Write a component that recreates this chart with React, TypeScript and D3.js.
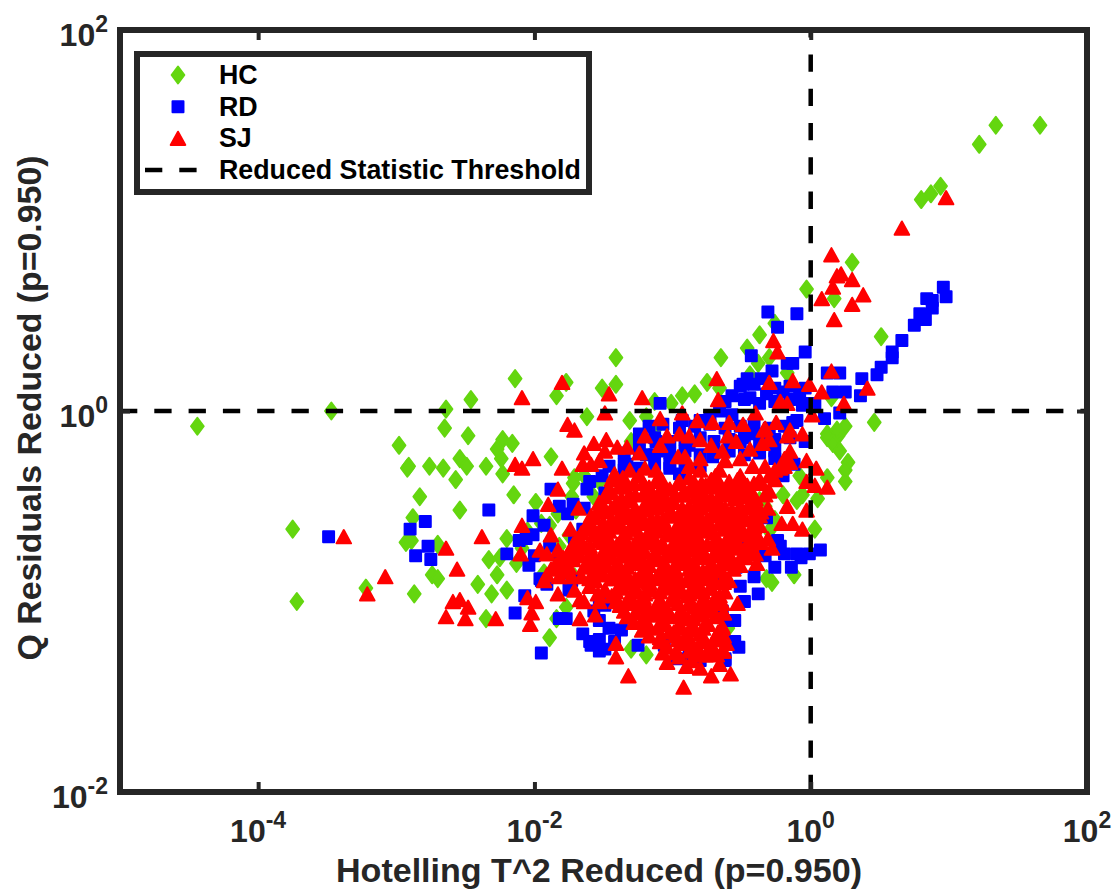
// App.tsx
import * as d3 from "d3";
import React, { useRef, useEffect } from "react";

const width = 1119;
const height = 890;
const plot = { left: 120, right: 1087, top: 30, bottom: 792 };

const seriesNames = ["HC", "RD", "SJ"];
const thresholdName = "Reduced Statistic Threshold";
const xTicks = [1e-4, 1e-2, 1, 100];
const yTicks = [1e-2, 1, 100];
const thresholdT2 = 1;
const thresholdQ = 1;

// all values, as log10 of the statistic
const hcT2 = [
  1.66, 1.34, 1.22, 0.94, 0.87, 0.8, 0.3, -0.03, 0.17, 0.51, 0.46, -0.26, -0.37, -0.46, -0.65, -0.38, -0.3, -0.75, -0.44, -0.17,
  0.15, 0.25, 0.12, 0.2, 0.12, 0.19, 0.16, 0.21, 0.27, 0.25, 0.25, 0.12, 0.05, -0.06, 0.03, -0.1, -0.26, -0.32, -0.28, -0.12,
  -0.08, -0.2, -0.33, -1.41, -1.41, -1.51, -1.84, -1.77, -1.62, -1.31, -1.19, -1.13, -0.93, -0.84, -0.66, -1.01, -1.13, -1.3, -1.88, -1.71,
  -1.72, -1.99, -1.95, -1.83, -1.89, -1.3, -1.19, -1.77, -1.84, -0.6, -0.64, -1.75, -1.7, -1.53, -4.44, -3.47, -2.64, -2.46, -2.14, -2.65,
  -2.48, -2.98, -2.91, -2.76, -2.66, -2.54, -2.49, -2.57, -2.35, -2.23, -2.23, -2.27, -2.24, -2.16, -2.83, -2.15, -2.54, -2.88, -3.75, -2.93,
  -2.89, -2.7, -2.2, -2.33, -2.25, -2.13, -2.27, -2.74, -2.7, -2.41, -2.31, -2.2, -2.87, -3.22, -3.72, -2.35, -2.92, -2.05, -2.09, -1.93,
  -1.64, -1.73, -1.57, -1.89, -1.82, -1.71, -0.37, -0.3,
];
const hcQ = [
  1.5, 1.5, 1.4, 1.18, 1.14, 1.11, 0.78, 0.64, 0.59, 0.39, -0.06, 0.46, 0.4, 0.33, 0.28, 0.25, 0.28, 0.15, 0.19, 0.2,
  0.07, -0.08, -0.12, -0.13, -0.14, -0.1, -0.17, -0.21, -0.27, -0.31, -0.37, -0.35, -0.46, -0.44, -0.62, -0.47, -0.57, -0.88, -0.9, -0.86,
  -0.34, -0.44, -0.5, 0.28, 0.14, 0.12, 0.08, 0.15, -0.03, -0.05, -0.03, -0.1, 0.08, 0.09, 0.12, 0.04, 0.05, -0.16, -0.24, -0.35,
  -0.38, -0.48, -0.59, -0.54, -1.19, -1.25, -1.28, -1.03, -1.09, -1.14, -1.21, -0.65, -0.52, -0.37, -0.08, 0, 0.01, 0.06, 0.17, -0.09,
  -0.13, -0.18, -0.29, -0.29, -0.3, -0.25, -0.29, -0.36, -0.29, -0.33, -0.15, -0.2, -0.25, -0.17, -0.45, -0.44, -0.52, -0.56, -0.62, -0.69,
  -0.68, -0.7, -0.67, -0.78, -0.77, -0.8, -0.86, -0.86, -0.88, -0.91, -0.96, -0.94, -0.96, -0.93, -1, -1.09, -0.3, -0.63, -0.72, -0.85,
  -0.34, -0.45, -0.45, -0.6, -0.71, -0.87, -0.47, -0.63,
];

const rdT2 = [
  0.96, 0.98, 0.84, 0.88, 0.88, 0.79, 0.83, 0.75, 0.66, 0.59, 0.59, 0.51, 0.48, 0.37, 0.36, 0.25, -0.31, -0.1, -0.24, -0.43,
  -0.04, -0.13, -0.17, -0.28, -0.46, -0.36, 0.21, 0.12, 0.16, -0.49, -0.57, -0.44, -0.32, -0.2, -0.08, -0.03, 0.1, 0.21, -0.13, -0.66,
  -0.06, -1.09, -0.73, -0.93, -0.42, -0.57, -0.1, -0.26, -0.12, -0.2, -1.19, -1.04, -1.33, -1.51, -0.71, -1.02, -0.95, -1.62, -1.88, -1.72,
  -1.49, -2.01, -1.76, -1.64, -2.06, -1.71, -1.65, -2.04, -1.95, -1.91, -1.73, -1.8, -1.82, -1.77, -1.65, -1.53, -1.49, -1.46, -1.25, -1.95,
  -0.52, -0.38, -0.26, -0.14, -0.1, 0.07, -0.01, -0.24, -0.19, -0.07, -0.62, -0.64, -0.61, -0.97, -0.68, -0.32, -0.54, -0.46, -3.49, -2.79,
  -2.9, -2.77, -2.86, -2.75, -2.33, -2.01, -2.11, -2.2, -1.96, -2.07, -2.14, -1.59, -1.53, -0.8, -1.24, -1.12, -0.88, -0.51, -1.35,
  // crowded band above the core
  -1.17, -1.07, -0.95, -0.84, -0.73, -0.62, -0.51, -0.41, -0.3, -0.19,
  -1.24, -1.13, -1.02, -0.91, -0.8, -0.7, -0.59, -0.48, -0.37, -0.26, -0.15, -0.04,
  -1.35, -1.24, -1.13, -1.02, -0.91, -0.8, -0.7, -0.59, -0.48, -0.37, -0.26,
  -1.46, -1.35, -1.24, -1.13, -1.02, -0.91, -0.8,
  -0.51, -0.41, -0.26, -0.15, -0.04,
  -0.62, -0.48, -0.37, -0.26, -0.15, 0.03,
  // round the edge of the core
  -1.6, -1.82, -1.93, -1.89, -2, -1.82, -1.75, -1.57, -1.53, -1.49, -1.6, -1.42, -1.53, -1.37,
  -0.55, -0.55, -0.48, -0.51, -0.41, -0.33, -0.22, -0.62, -0.8, -0.88, -1.06,
];
const rdQ = [
  0.65, 0.6, 0.59, 0.58, 0.54, 0.51, 0.48, 0.45, 0.37, 0.31, 0.28, 0.23, 0.19, 0.17, 0.08, 0.1, 0.52, 0.51, 0.44, 0.29,
  0.31, 0.25, 0.25, 0.21, 0.17, 0.17, 0.2, 0.2, 0.1, 0.14, 0.08, 0.07, 0.09, 0.1, 0.09, 0.04, -0.04, -0.01, -0.06, 0,
  0.03, 0.04, -0.03, -0.05, -0.12, -0.02, -0.05, -0.25, -0.28, -0.34, -0.23, -0.21, -0.28, -0.34, -0.24, -0.3, -0.33, -0.41, -0.41, -0.49,
  -0.43, -0.55, -0.54, -0.51, -0.67, -0.69, -0.62, -0.81, -0.89, -0.91, -0.89, -1.09, -1.09, -1.09, -1.17, -1.2, -1.25, -1.14, -1.23, -1.27,
  -1.24, -0.96, -0.82, -0.82, -0.75, -0.73, -0.75, -0.68, -0.75, -0.77, -1.3, -1.05, -1.1, -1.3, -0.86, -0.56, -0.82, -0.72, -0.66, -0.58,
  -0.62, -0.71, -0.76, -0.78, -0.52, -0.65, -0.68, -0.75, -0.88, -0.97, -1.06, -1.23, -1.26, -0.05, -0.12, -0.16, -0.18, -0.16, -0.31,
  // crowded band above the core
  -0.08, -0.07, -0.09, -0.08, -0.07, -0.09, -0.08, -0.07, -0.09, -0.08,
  -0.15, -0.14, -0.16, -0.15, -0.14, -0.16, -0.15, -0.14, -0.16, -0.15, -0.14, -0.16,
  -0.22, -0.21, -0.23, -0.22, -0.21, -0.23, -0.22, -0.21, -0.23, -0.22, -0.21,
  -0.29, -0.28, -0.3, -0.29, -0.28, -0.3, -0.29,
  0.13, 0.14, 0.12, 0.13, 0.12,
  0.05, 0.06, 0.04, 0.05, 0.06, 0.04,
  // round the edge of the core
  -0.37, -0.5, -0.6, -0.71, -0.76, -0.79, -0.94, -1.05, -1.1, -1.02, -1.21, -1.21, -1, -1.15,
  -1.1, -1.21, -1, -0.92, -0.87, -0.76, -0.71, -1.31, -1.31, -1.29, -1.23,
];

const sjT2 = [
  0.98, 0.66, 0.15, 0.22, 0.19, 0.3, 0.16, 0.08, 0.38, 0.3, 0.17, -0.27, -0.24, -0.68, -0.67, -0.3, -0.13, -0.01, 0.15, 0.08,
  0.41, 0.24, -0.22, -0.17, -0.4, 0.01, -0.25, -0.49, -0.59, -0.71, -0.34, -0.15, -0.06, -1.8, -1.46, -1.22, -1.49, -1.76, -1.71, -2.09,
  -1.09, -0.93, -0.82, -1.2, -1.04, -0.88, -0.72, -0.6, -0.54, -0.33, -0.35, -1.48, -1.57, -1.64, -1.4, -1.33, -1.59, -1.65, -2.01, -1.8,
  -2.09, -1.83, -1.9, -1.68, -2.09, -1.88, -1.74, -1.96, -1.83, -1.91, -0.91, -0.8, -1.42, -1.2, -1.12, -1.36, -0.62, -0.51, -0.42, -0.17,
  -0.15, -0.03, 0.04, -0.03, 0.03, 0.12, -0.17, -0.03, -0.21, -0.13, -0.06, -0.31, -0.28, -0.39, -0.53, -2.05, -1.99, -2.02, -2.03, -1.83,
  -1.67, -1.56, -1.41, -1.41, -1.32, -0.92, -0.58, -1.04, -0.72, -0.9, -0.8, -0.66, -1.07, -0.61, -0.68, -3.38, -3.08, -3.21, -2.64, -2.56,
  -2.38, -2.1, -2.59, -2.54, -2.48, -2.64, -2.5, -2.28, -2.14, -0.26, -0.19, -0.3,
  // dense core, row by row
  -1.44, -1.24, -1.12, -0.88, -0.79, -0.69, -0.53,
  -1.47, -1.35, -1.17, -1.02, -0.92, -0.83, -0.72, -0.62, -0.5, -0.43,
  -1.53, -1.42, -1.31, -1.2, -1.09, -0.99, -0.88, -0.77, -0.66, -0.55, -0.44,
  -1.59, -1.49, -1.37, -1.26, -1.15, -1.04, -0.93, -0.82, -0.71, -0.6, -0.49, -0.4,
  -1.63, -1.53, -1.41, -1.31, -1.2, -1.09, -0.98, -0.88, -0.76, -0.66, -0.54, -0.44, -0.37,
  -1.69, -1.57, -1.47, -1.36, -1.24, -1.14, -1.04, -0.92, -0.82, -0.7, -0.6, -0.49, -0.4,
  -1.75, -1.63, -1.51, -1.41, -1.3, -1.2, -1.08, -0.98, -0.86, -0.76, -0.64, -0.54, -0.44,
  -1.83, -1.72, -1.6, -1.49, -1.38, -1.27, -1.15, -1.05, -0.93, -0.83, -0.72, -0.62, -0.51,
  -1.91, -1.79, -1.66, -1.54, -1.44, -1.33, -1.21, -1.11, -0.99, -0.89, -0.78, -0.67,
  -1.6, -1.49, -1.38, -1.27, -1.17, -1.05, -0.95, -0.83, -0.73, -0.63,
  -1.67, -1.44, -1.33, -1.21, -1.11, -1.01, -0.89, -0.79, -0.69,
  -1.35, -1.24, -1.14, -1.04, -0.92, -0.82, -0.72, -0.63,
  -1.28, -1.17, -1.07, -0.95, -0.85, -0.75, -0.64,
  -1.17, -1.02, -0.91, -0.8, -0.7, -0.63,
  -1.04, -0.92, -0.82, -0.72, -0.64,
  -0.95, -0.86, -0.76,
  // rows in between, the core is solid red
  -1.38, -1.28, -1.17, -1.07, -0.96, -0.86, -0.76, -0.66, -0.56, -0.46,
  -1.49, -1.37, -1.27, -1.15, -1.05, -0.93, -0.83, -0.72, -0.62, -0.5, -0.4,
  -1.54, -1.44, -1.33, -1.21, -1.11, -1.01, -0.89, -0.79, -0.67, -0.57, -0.46, -0.36,
  -1.6, -1.5, -1.4, -1.28, -1.17, -1.07, -0.95, -0.85, -0.75, -0.63, -0.53, -0.43,
  -1.66, -1.56, -1.46, -1.34, -1.24, -1.12, -1.02, -0.92, -0.8, -0.7, -0.59, -0.49, -0.4,
  -1.72, -1.6, -1.5, -1.4, -1.28, -1.18, -1.07, -0.96, -0.85, -0.75, -0.64, -0.53, -0.43,
  -1.79, -1.67, -1.56, -1.44, -1.34, -1.22, -1.11, -1.01, -0.89, -0.79, -0.67, -0.57, -0.47,
  -1.88, -1.76, -1.64, -1.54, -1.43, -1.33, -1.21, -1.09, -0.99, -0.88, -0.78, -0.66, -0.56,
  -1.56, -1.44, -1.33, -1.22, -1.11, -1.01, -0.89, -0.79, -0.69, -0.59,
  -1.54, -1.41, -1.31, -1.2, -1.09, -0.99, -0.88, -0.78, -0.66,
  -1.38, -1.28, -1.18, -1.07, -0.96, -0.85, -0.75, -0.64,
  -1.33, -1.21, -1.11, -1.01, -0.89, -0.79, -0.69,
  -1.22, -1.11, -0.99, -0.88, -0.78, -0.67,
  -1.09, -0.96, -0.86, -0.76, -0.69,
  -0.98, -0.88, -0.79, -0.7, -0.63,
  -0.3, -0.22, -0.36, -0.15,
  // third pass over the core
  -1.34, -1.21, -1.08, -0.95, -0.84, -0.72, -0.59, -0.48, -0.37,
  -1.44, -1.31, -1.2, -1.09, -0.98, -0.88, -0.78, -0.66, -0.55, -0.44, -0.33,
  -1.5, -1.38, -1.27, -1.15, -1.05, -0.93, -0.83, -0.73, -0.62, -0.51, -0.41, -0.31,
  -1.56, -1.44, -1.33, -1.22, -1.11, -1.01, -0.89, -0.79, -0.69, -0.57, -0.47, -0.37,
  -1.6, -1.5, -1.38, -1.28, -1.17, -1.05, -0.95, -0.85, -0.73, -0.63, -0.51, -0.41,
  -1.66, -1.54, -1.44, -1.33, -1.21, -1.11, -0.99, -0.89, -0.79, -0.67, -0.56, -0.46, -0.36,
  -1.7, -1.59, -1.47, -1.36, -1.25, -1.14, -1.04, -0.92, -0.82, -0.7, -0.6, -0.5, -0.4,
  -1.85, -1.75, -1.62, -1.5, -1.4, -1.28, -1.17, -1.07, -0.95, -0.85, -0.73, -0.63, -0.53,
  -1.73, -1.6, -1.5, -1.38, -1.27, -1.17, -1.05, -0.95, -0.83, -0.73, -0.63,
  -1.49, -1.37, -1.25, -1.15, -1.04, -0.93, -0.82, -0.72, -0.62,
  -1.41, -1.31, -1.2, -1.09, -0.98, -0.88, -0.76, -0.66,
  -1.27, -1.17, -1.05, -0.95, -0.83, -0.73, -0.63,
  -1.2, -1.07, -0.96, -0.85, -0.75, -0.64,
  -1.09, -0.98, -0.88, -0.78, -0.67,
  // band above the core and the lower left tail
  -0.95, -0.8, -1.24, -1.09, -0.64, -0.44, -0.3, -0.96, -1.31, -1.53, -1.49, -0.26, -0.19, -0.33, -0.66, -0.88, -0.8, -1.09, -0.51, -0.41,
  -1.82, -1.93, -1.71, -1.53, -1.57, -1.64,
];
const sjQ = [
  1.12, 0.96, 0.82, 0.72, 0.71, 0.69, 0.65, 0.59, 0.61, 0.56, 0.48, 0.37, 0.31, 0.17, 0.06, 0.15, 0.16, 0.14, 0.21, 0.1,
  0.12, 0.04, 0.05, 0.04, -0.01, -0.02, -0.06, -0.07, -0.06, -0.06, -0.1, -0.1, -0.12, 0.15, 0.09, 0.07, -0.01, -0.07, -0.1, 0.07,
  -0.04, -0.01, -0.05, -0.13, -0.13, -0.13, -0.18, -0.13, -0.16, -0.09, -0.17, -0.15, -0.17, -0.22, -0.19, -0.19, -0.28, -0.28, -0.25, -0.3,
  -0.3, -0.41, -0.49, -0.51, -0.6, -0.65, -0.62, -0.73, -0.73, -0.75, -0.24, -0.25, -0.33, -0.3, -0.31, -0.35, -0.26, -0.25, -0.29, -0.13,
  -0.21, -0.26, -0.3, -0.37, -0.39, -0.4, -0.5, -0.52, -0.59, -0.59, -0.62, -0.67, -0.72, -0.8, -1.01, -0.98, -1, -1.06, -1.12, -0.96,
  -1.09, -1.07, -1.22, -1.29, -1.39, -1.45, -1.38, -1.32, -1.39, -1.34, -1.35, -1.33, -1.27, -1.22, -1.28, -0.66, -0.87, -0.96, -0.72, -0.83,
  -0.66, -0.75, -1, -0.99, -1.03, -1.08, -1.09, -1.09, -0.28, -0.36, -0.29, -0.42,
  // dense core, row by row
  -0.36, -0.34, -0.37, -0.35, -0.38, -0.34, -0.36,
  -0.42, -0.4, -0.43, -0.41, -0.44, -0.42, -0.4, -0.43, -0.41, -0.44,
  -0.48, -0.5, -0.47, -0.49, -0.46, -0.48, -0.5, -0.47, -0.49, -0.46, -0.5,
  -0.55, -0.53, -0.56, -0.54, -0.57, -0.55, -0.53, -0.56, -0.54, -0.57, -0.55, -0.53,
  -0.61, -0.63, -0.6, -0.62, -0.59, -0.61, -0.63, -0.6, -0.62, -0.59, -0.61, -0.63, -0.6,
  -0.67, -0.65, -0.68, -0.66, -0.69, -0.67, -0.65, -0.68, -0.66, -0.69, -0.67, -0.65, -0.68,
  -0.74, -0.72, -0.75, -0.73, -0.76, -0.74, -0.72, -0.75, -0.73, -0.76, -0.74, -0.72, -0.75,
  -0.8, -0.78, -0.81, -0.79, -0.82, -0.8, -0.78, -0.81, -0.79, -0.82, -0.8, -0.78, -0.81,
  -0.86, -0.84, -0.87, -0.85, -0.88, -0.86, -0.84, -0.87, -0.85, -0.88, -0.86, -0.84,
  -0.92, -0.94, -0.91, -0.93, -0.9, -0.92, -0.94, -0.91, -0.93, -0.9,
  -0.99, -0.97, -1, -0.98, -1.01, -0.99, -0.97, -1, -0.98,
  -1.05, -1.03, -1.06, -1.04, -1.07, -1.05, -1.03, -1.06,
  -1.11, -1.13, -1.1, -1.12, -1.09, -1.11, -1.13,
  -1.18, -1.16, -1.19, -1.17, -1.2, -1.18,
  -1.24, -1.22, -1.25, -1.23, -1.26,
  -1.29, -1.31, -1.28,
  // rows in between, the core is solid red
  -0.39, -0.38, -0.4, -0.39, -0.38, -0.4, -0.39, -0.38, -0.4, -0.39,
  -0.45, -0.46, -0.44, -0.45, -0.46, -0.44, -0.45, -0.46, -0.44, -0.45, -0.46,
  -0.52, -0.51, -0.53, -0.52, -0.51, -0.53, -0.52, -0.51, -0.53, -0.52, -0.51, -0.53,
  -0.58, -0.59, -0.57, -0.58, -0.59, -0.57, -0.58, -0.59, -0.57, -0.58, -0.59, -0.57,
  -0.64, -0.65, -0.63, -0.64, -0.65, -0.63, -0.64, -0.65, -0.63, -0.64, -0.65, -0.63, -0.64,
  -0.7, -0.71, -0.69, -0.7, -0.71, -0.69, -0.7, -0.71, -0.69, -0.7, -0.71, -0.69, -0.7,
  -0.77, -0.76, -0.78, -0.77, -0.76, -0.78, -0.77, -0.76, -0.78, -0.77, -0.76, -0.78, -0.77,
  -0.83, -0.84, -0.82, -0.83, -0.84, -0.82, -0.83, -0.84, -0.82, -0.83, -0.84, -0.82, -0.83,
  -0.89, -0.88, -0.9, -0.89, -0.88, -0.9, -0.89, -0.88, -0.9, -0.89,
  -0.96, -0.95, -0.97, -0.96, -0.95, -0.97, -0.96, -0.95, -0.97,
  -1.02, -1.01, -1.03, -1.02, -1.01, -1.03, -1.02, -1.01,
  -1.08, -1.09, -1.07, -1.08, -1.09, -1.07, -1.08,
  -1.15, -1.14, -1.16, -1.15, -1.14, -1.16,
  -1.21, -1.2, -1.22, -1.21, -1.2,
  -1.27, -1.26, -1.28, -1.27, -1.26,
  -0.34, -0.3, -0.38, -0.27,
  // third pass over the core
  -0.37, -0.38, -0.36, -0.37, -0.38, -0.36, -0.37, -0.38, -0.36,
  -0.43, -0.44, -0.42, -0.43, -0.44, -0.42, -0.43, -0.44, -0.42, -0.43, -0.44,
  -0.5, -0.49, -0.51, -0.5, -0.49, -0.51, -0.5, -0.49, -0.51, -0.5, -0.49, -0.51,
  -0.56, -0.57, -0.55, -0.56, -0.57, -0.55, -0.56, -0.57, -0.55, -0.56, -0.57, -0.55,
  -0.62, -0.63, -0.61, -0.62, -0.63, -0.61, -0.62, -0.63, -0.61, -0.62, -0.63, -0.61,
  -0.69, -0.68, -0.7, -0.69, -0.68, -0.7, -0.69, -0.68, -0.7, -0.69, -0.68, -0.7, -0.69,
  -0.75, -0.74, -0.76, -0.75, -0.74, -0.76, -0.75, -0.74, -0.76, -0.75, -0.74, -0.76, -0.75,
  -0.81, -0.82, -0.8, -0.81, -0.82, -0.8, -0.81, -0.82, -0.8, -0.81, -0.82, -0.8, -0.81,
  -0.87, -0.88, -0.86, -0.87, -0.88, -0.86, -0.87, -0.88, -0.86, -0.87, -0.88,
  -0.94, -0.93, -0.95, -0.94, -0.93, -0.95, -0.94, -0.93, -0.95,
  -1, -0.99, -1.01, -1, -0.99, -1.01, -1, -0.99,
  -1.06, -1.07, -1.05, -1.06, -1.07, -1.05, -1.06,
  -1.13, -1.12, -1.14, -1.13, -1.12, -1.14,
  -1.19, -1.18, -1.2, -1.19, -1.18,
  // band above the core and the lower left tail
  -0.12, -0.15, -0.22, -0.18, -0.21, -0.2, -0.15, -0.24, -0.31, -0.26, -0.21, -0.31, -0.25, -0.29, -0.31, -0.29, -0.31, -0.36, -0.34, -0.38,
  -0.87, -0.89, -0.94, -1, -0.89, -1,
];

const hcColor = "#64d60f";
const rdColor = "#0000ff";
const sjColor = "#ff0000";
const inkColor = "#262626";

// matlab markers, the diamond is taller than wide
const diamondType = {
  draw(ctx, size) {
    const h = Math.sqrt(size);
    ctx.moveTo(0, -h);
    ctx.lineTo(h * 0.75, 0);
    ctx.lineTo(0, h);
    ctx.lineTo(-h * 0.75, 0);
    ctx.closePath();
  },
};
const squareType = {
  draw(ctx, size) {
    const h = Math.sqrt(size);
    ctx.rect(-h, -h, h * 2, h * 2);
  },
};
const triangleType = {
  draw(ctx, size) {
    const h = Math.sqrt(size);
    ctx.moveTo(0, -h);
    ctx.lineTo(h * 1.1, h);
    ctx.lineTo(-h * 1.1, h);
    ctx.closePath();
  },
};

const markers = [
  { name: seriesNames[0], type: diamondType, size: 72, color: hcColor, t2: hcT2, q: hcQ },
  { name: seriesNames[1], type: squareType, size: 30, color: rdColor, t2: rdT2, q: rdQ },
  { name: seriesNames[2], type: triangleType, size: 44, color: sjColor, t2: sjT2, q: sjQ },
];

function App() {
  const ref = useRef<SVGSVGElement>(null);

  useEffect(() => {
    const svg = d3.select(ref.current);
    svg.selectAll("*").remove();

    const xScale = d3.scaleLog().domain([1e-5, 100]).range([plot.left, plot.right]);
    const yScale = d3.scaleLog().domain([1e-2, 100]).range([plot.bottom, plot.top]);

    // points
    markers.forEach((m) => {
      const path = d3.symbol().type(m.type).size(m.size)();
      svg
        .append("g")
        .selectAll("path")
        .data(m.t2.map((v, i) => [10 ** v, 10 ** m.q[i]]))
        .enter()
        .append("path")
        .attr("d", path)
        .attr("transform", (d) => `translate(${xScale(d[0])},${yScale(d[1])})`)
        .attr("fill", m.color)
        .attr("stroke", m.color)
        .attr("stroke-width", 2)
        .attr("stroke-linejoin", "round");
    });

    // threshold lines, the vertical one is dashed from the bottom up
    const dash = "17.3 17";
    svg
      .append("line")
      .attr("x1", xScale(1e-5))
      .attr("x2", xScale(100))
      .attr("y1", yScale(thresholdQ))
      .attr("y2", yScale(thresholdQ))
      .attr("stroke", "#000")
      .attr("stroke-width", 4.5)
      .attr("stroke-dasharray", dash);
    svg
      .append("line")
      .attr("x1", xScale(thresholdT2))
      .attr("x2", xScale(thresholdT2))
      .attr("y1", yScale(1e-2))
      .attr("y2", yScale(100))
      .attr("stroke", "#000")
      .attr("stroke-width", 4.5)
      .attr("stroke-dasharray", dash);

    // axes, ticks point inwards on all four sides
    const tickLen = -10;
    const bottom = svg.append("g").attr("transform", `translate(0,${plot.bottom})`);
    bottom.call(d3.axisBottom(xScale).tickValues(xTicks).tickSize(tickLen).tickFormat(() => ""));
    const top = svg.append("g").attr("transform", `translate(0,${plot.top})`);
    top.call(d3.axisTop(xScale).tickValues(xTicks).tickSize(tickLen).tickFormat(() => ""));
    const left = svg.append("g").attr("transform", `translate(${plot.left},0)`);
    left.call(d3.axisLeft(yScale).tickValues(yTicks).tickSize(tickLen).tickFormat(() => ""));
    const right = svg.append("g").attr("transform", `translate(${plot.right},0)`);
    right.call(d3.axisRight(yScale).tickValues(yTicks).tickSize(tickLen).tickFormat(() => ""));
    [bottom, top, left, right].forEach((g) => {
      g.select(".domain").remove();
      g.selectAll("line").attr("stroke", inkColor).attr("stroke-width", 4);
    });

    svg
      .append("rect")
      .attr("x", plot.left)
      .attr("y", plot.top)
      .attr("width", plot.right - plot.left)
      .attr("height", plot.bottom - plot.top)
      .attr("fill", "none")
      .attr("stroke", inkColor)
      .attr("stroke-width", 6);

    const font = "'Liberation Sans', Arial, sans-serif";
    const powerLabel = (x, y, anchor, value) => {
      const t = svg
        .append("text")
        .attr("x", x)
        .attr("y", y)
        .attr("text-anchor", anchor)
        .attr("font-family", font)
        .attr("font-weight", "bold")
        .attr("font-size", 32)
        .attr("fill", inkColor);
      t.append("tspan").text("10");
      t.append("tspan")
        .attr("dy", -14)
        .attr("font-size", 23)
        .text(String(Math.round(Math.log10(value))));
    };
    xTicks.forEach((v) => powerLabel(xScale(v), plot.bottom + 50, "middle", v));
    yTicks.forEach((v) => powerLabel(108, yScale(v) + 16, "end", v));

    svg
      .append("text")
      .attr("x", 599)
      .attr("y", 882)
      .attr("text-anchor", "middle")
      .attr("font-family", font)
      .attr("font-weight", "bold")
      .attr("font-size", 33)
      .attr("textLength", 526)
      .attr("lengthAdjust", "spacingAndGlyphs")
      .attr("fill", inkColor)
      .text("Hotelling T^2 Reduced (p=0.950)");
    svg
      .append("text")
      .attr("transform", "translate(41,408) rotate(-90)")
      .attr("text-anchor", "middle")
      .attr("font-family", font)
      .attr("font-weight", "bold")
      .attr("font-size", 33)
      .attr("textLength", 505)
      .attr("lengthAdjust", "spacingAndGlyphs")
      .attr("fill", inkColor)
      .text("Q Residuals Reduced (p=0.950)");

    // legend
    const legend = svg.append("g");
    legend
      .append("rect")
      .attr("x", 137)
      .attr("y", 54)
      .attr("width", 452)
      .attr("height", 138)
      .attr("fill", "#fff")
      .attr("stroke", inkColor)
      .attr("stroke-width", 6);
    const rowY = d3.scalePoint().domain([...seriesNames, thresholdName]).range([75, 170]);
    markers.forEach((m) => {
      legend
        .append("path")
        .attr("d", d3.symbol().type(m.type).size(m.size)())
        .attr("transform", `translate(178,${rowY(m.name)})`)
        .attr("fill", m.color)
        .attr("stroke", m.color)
        .attr("stroke-width", 2)
        .attr("stroke-linejoin", "round");
    });
    legend
      .append("line")
      .attr("x1", 145)
      .attr("x2", 197)
      .attr("y1", rowY(thresholdName))
      .attr("y2", rowY(thresholdName))
      .attr("stroke", "#000")
      .attr("stroke-width", 4.5)
      .attr("stroke-dasharray", dash);
    legend
      .selectAll("text")
      .data([...seriesNames, thresholdName])
      .enter()
      .append("text")
      .attr("x", 219)
      .attr("y", (d) => rowY(d) + 9)
      .attr("font-family", font)
      .attr("font-weight", "bold")
      .attr("font-size", 26.8)
      .attr("fill", "#000")
      .text((d) => d);
  }, []);

  return (
    <svg
      ref={ref}
      width={width}
      height={height}
      style={{ position: "absolute", left: 0, top: 0, background: "#fff" }}
    />
  );
}

export default App;
